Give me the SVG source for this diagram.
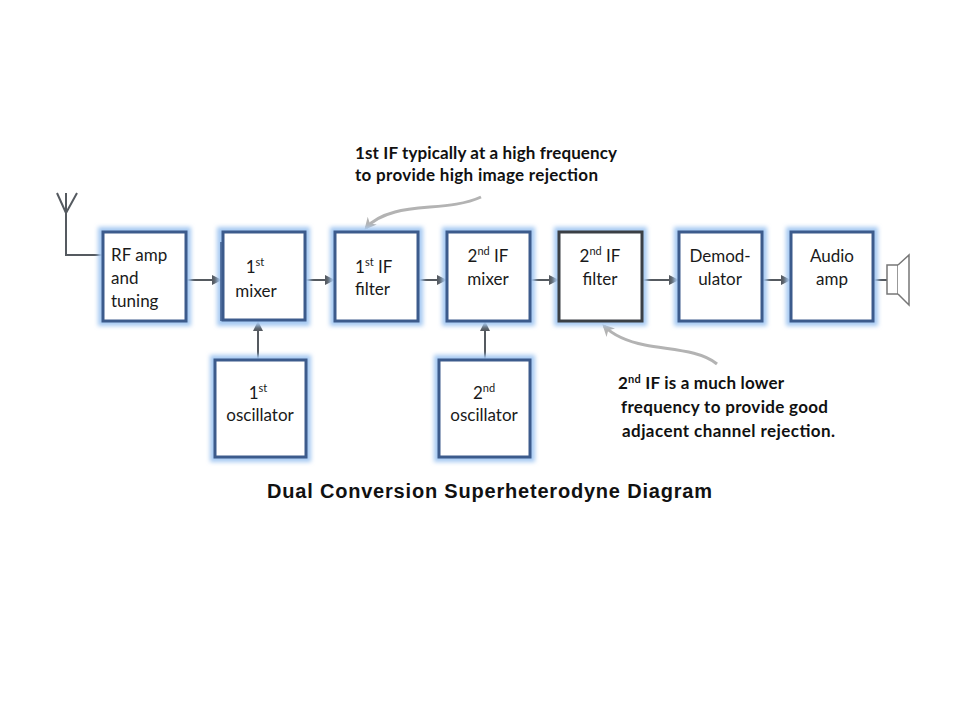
<svg xmlns="http://www.w3.org/2000/svg" width="960" height="720" viewBox="0 0 960 720">
<style>
.glow{fill:none;stroke:#a6c9f2;stroke-width:10;filter:url(#blur)}
.box{fill:#ffffff;stroke:#3c5b8c;stroke-width:3}
.dark{stroke:#3a3f45}
.lbl{font-family:Lato,"Open Sans",sans-serif;font-size:17px;fill:#1a1a1a}
.sup{font-size:11px}
.note{font-family:Lato,"Open Sans",sans-serif;font-size:17px;font-weight:bold;fill:#111}
.conn{stroke:#555a60;stroke-width:2;fill:none}
.callout{stroke:#b3b3b3;stroke-width:3;fill:none}
</style>
<defs>
<filter id="blur" x="-20%" y="-20%" width="140%" height="140%"><feGaussianBlur stdDeviation="2.2"/></filter>
<marker id="ah" viewBox="0 0 10 10" refX="9" refY="5" markerWidth="5" markerHeight="5" orient="auto"><path d="M0,0 L10,5 L0,10 z" fill="#555a60"/></marker>
<marker id="gh" viewBox="0 0 10 10" refX="8" refY="5" markerWidth="4" markerHeight="4" orient="auto"><path d="M0,0 L10,5 L0,10 L3,5 z" fill="#b3b3b3"/></marker>
</defs>
<rect width="960" height="720" fill="#ffffff"/>

<g id="connectors">
<path class="conn" d="M57,193 L66,213 L77,193 M66,193 L66,255 L103,255"/>
<line class="conn" x1="187" y1="280" x2="221" y2="280" marker-end="url(#ah)"/>
<line class="conn" x1="306" y1="280" x2="334" y2="280" marker-end="url(#ah)"/>
<line class="conn" x1="419" y1="280" x2="446" y2="280" marker-end="url(#ah)"/>
<line class="conn" x1="531" y1="280" x2="558" y2="280" marker-end="url(#ah)"/>
<line class="conn" x1="643" y1="280" x2="678" y2="280" marker-end="url(#ah)"/>
<line class="conn" x1="763" y1="280" x2="790" y2="280" marker-end="url(#ah)"/>
<line class="conn" x1="258" y1="359" x2="258" y2="322" marker-end="url(#ah)"/>
<line class="conn" x1="485" y1="359" x2="485" y2="322" marker-end="url(#ah)"/>
<line class="conn" x1="874" y1="280" x2="887" y2="280"/>
<path class="callout" d="M481,197 C455,209 420,205 395,212 C380,216 372,221 366,228" marker-end="url(#gh)"/>
<path class="callout" d="M717,364 C700,350 670,350 645,345 C625,341 612,334 604,326" marker-end="url(#gh)"/>
</g>

<g id="speaker">
<rect x="887" y="265" width="11" height="29" fill="#fff" stroke="#777" stroke-width="1.5"/>
<path d="M898,265 L909,255 L909,305 L898,294" fill="#fff" stroke="#777" stroke-width="1.5"/>
</g>

<g id="rf-amp">
<rect class="glow" x="103" y="232" width="83" height="89"/>
<rect class="box" x="103" y="232" width="83" height="89"/>
<text class="lbl" x="111" y="261">RF amp</text>
<text class="lbl" x="111" y="284">and</text>
<text class="lbl" x="111" y="307">tuning</text>
</g>

<g id="mixer1">
<rect class="glow" x="222" y="232" width="83" height="89"/>
<line x1="221" y1="242" x2="221" y2="321" stroke="#3c5b8c" stroke-width="1.5"/>
<rect class="box" x="223" y="232" width="82" height="88"/>
<text class="lbl" x="255" y="273" text-anchor="middle">1<tspan class="sup" dy="-7">st</tspan></text>
<text class="lbl" x="256" y="297" text-anchor="middle">mixer</text>
</g>

<g id="if-filter1">
<rect class="glow" x="335" y="232" width="83" height="89"/>
<rect class="box" x="335" y="232" width="83" height="89"/>
<text class="lbl" x="355" y="273">1<tspan class="sup" dy="-7">st</tspan><tspan dy="7"> IF</tspan></text>
<text class="lbl" x="355" y="295">filter</text>
</g>

<g id="mixer2">
<rect class="glow" x="447" y="232" width="83" height="89"/>
<rect class="box" x="447" y="232" width="83" height="89"/>
<text class="lbl" x="488" y="262" text-anchor="middle">2<tspan class="sup" dy="-7">nd</tspan><tspan dy="7"> IF</tspan></text>
<text class="lbl" x="488" y="285" text-anchor="middle">mixer</text>
</g>

<g id="if-filter2">
<rect class="glow" x="559" y="232" width="83" height="89"/>
<rect class="box dark" x="559" y="232" width="83" height="89"/>
<text class="lbl" x="600" y="262" text-anchor="middle">2<tspan class="sup" dy="-7">nd</tspan><tspan dy="7"> IF</tspan></text>
<text class="lbl" x="600" y="285" text-anchor="middle">filter</text>
</g>

<g id="demodulator">
<rect class="glow" x="679" y="232" width="83" height="89"/>
<rect class="box" x="679" y="232" width="83" height="89"/>
<text class="lbl" x="720" y="262" text-anchor="middle">Demod-</text>
<text class="lbl" x="720" y="285" text-anchor="middle">ulator</text>
</g>

<g id="audio-amp">
<rect class="glow" x="791" y="232" width="82" height="89"/>
<rect class="box" x="791" y="232" width="82" height="89"/>
<text class="lbl" x="832" y="262" text-anchor="middle">Audio</text>
<text class="lbl" x="832" y="285" text-anchor="middle">amp</text>
</g>

<g id="osc1">
<rect class="glow" x="215" y="360" width="91" height="97"/>
<rect class="box" x="215" y="360" width="91" height="97"/>
<text class="lbl" x="258" y="399" text-anchor="middle">1<tspan class="sup" dy="-7">st</tspan></text>
<text class="lbl" x="260" y="421" text-anchor="middle">oscillator</text>
</g>

<g id="osc2">
<rect class="glow" x="439" y="360" width="91" height="97"/>
<rect class="box" x="439" y="360" width="91" height="97"/>
<text class="lbl" x="484" y="399" text-anchor="middle">2<tspan class="sup" dy="-7">nd</tspan></text>
<text class="lbl" x="484" y="421" text-anchor="middle">oscillator</text>
</g>

<g id="note1">
<text class="note" x="355" y="159" textLength="262">1st IF typically at a high frequency</text>
<text class="note" x="355" y="181" textLength="243">to provide high image rejection</text>
</g>

<g id="note2">
<text class="note" x="618" y="389" textLength="166">2<tspan font-size="11" dy="-6">nd</tspan><tspan dy="6"> IF is a much lower</tspan></text>
<text class="note" x="621" y="413" textLength="207">frequency to provide good</text>
<text class="note" x="622" y="437" textLength="213">adjacent channel rejection.</text>
</g>

<g id="title">
<text x="267" y="498" font-family="'Liberation Sans',Arial,sans-serif" font-size="20" font-weight="bold" fill="#111" textLength="445">Dual Conversion Superheterodyne Diagram</text>
</g>
</svg>
